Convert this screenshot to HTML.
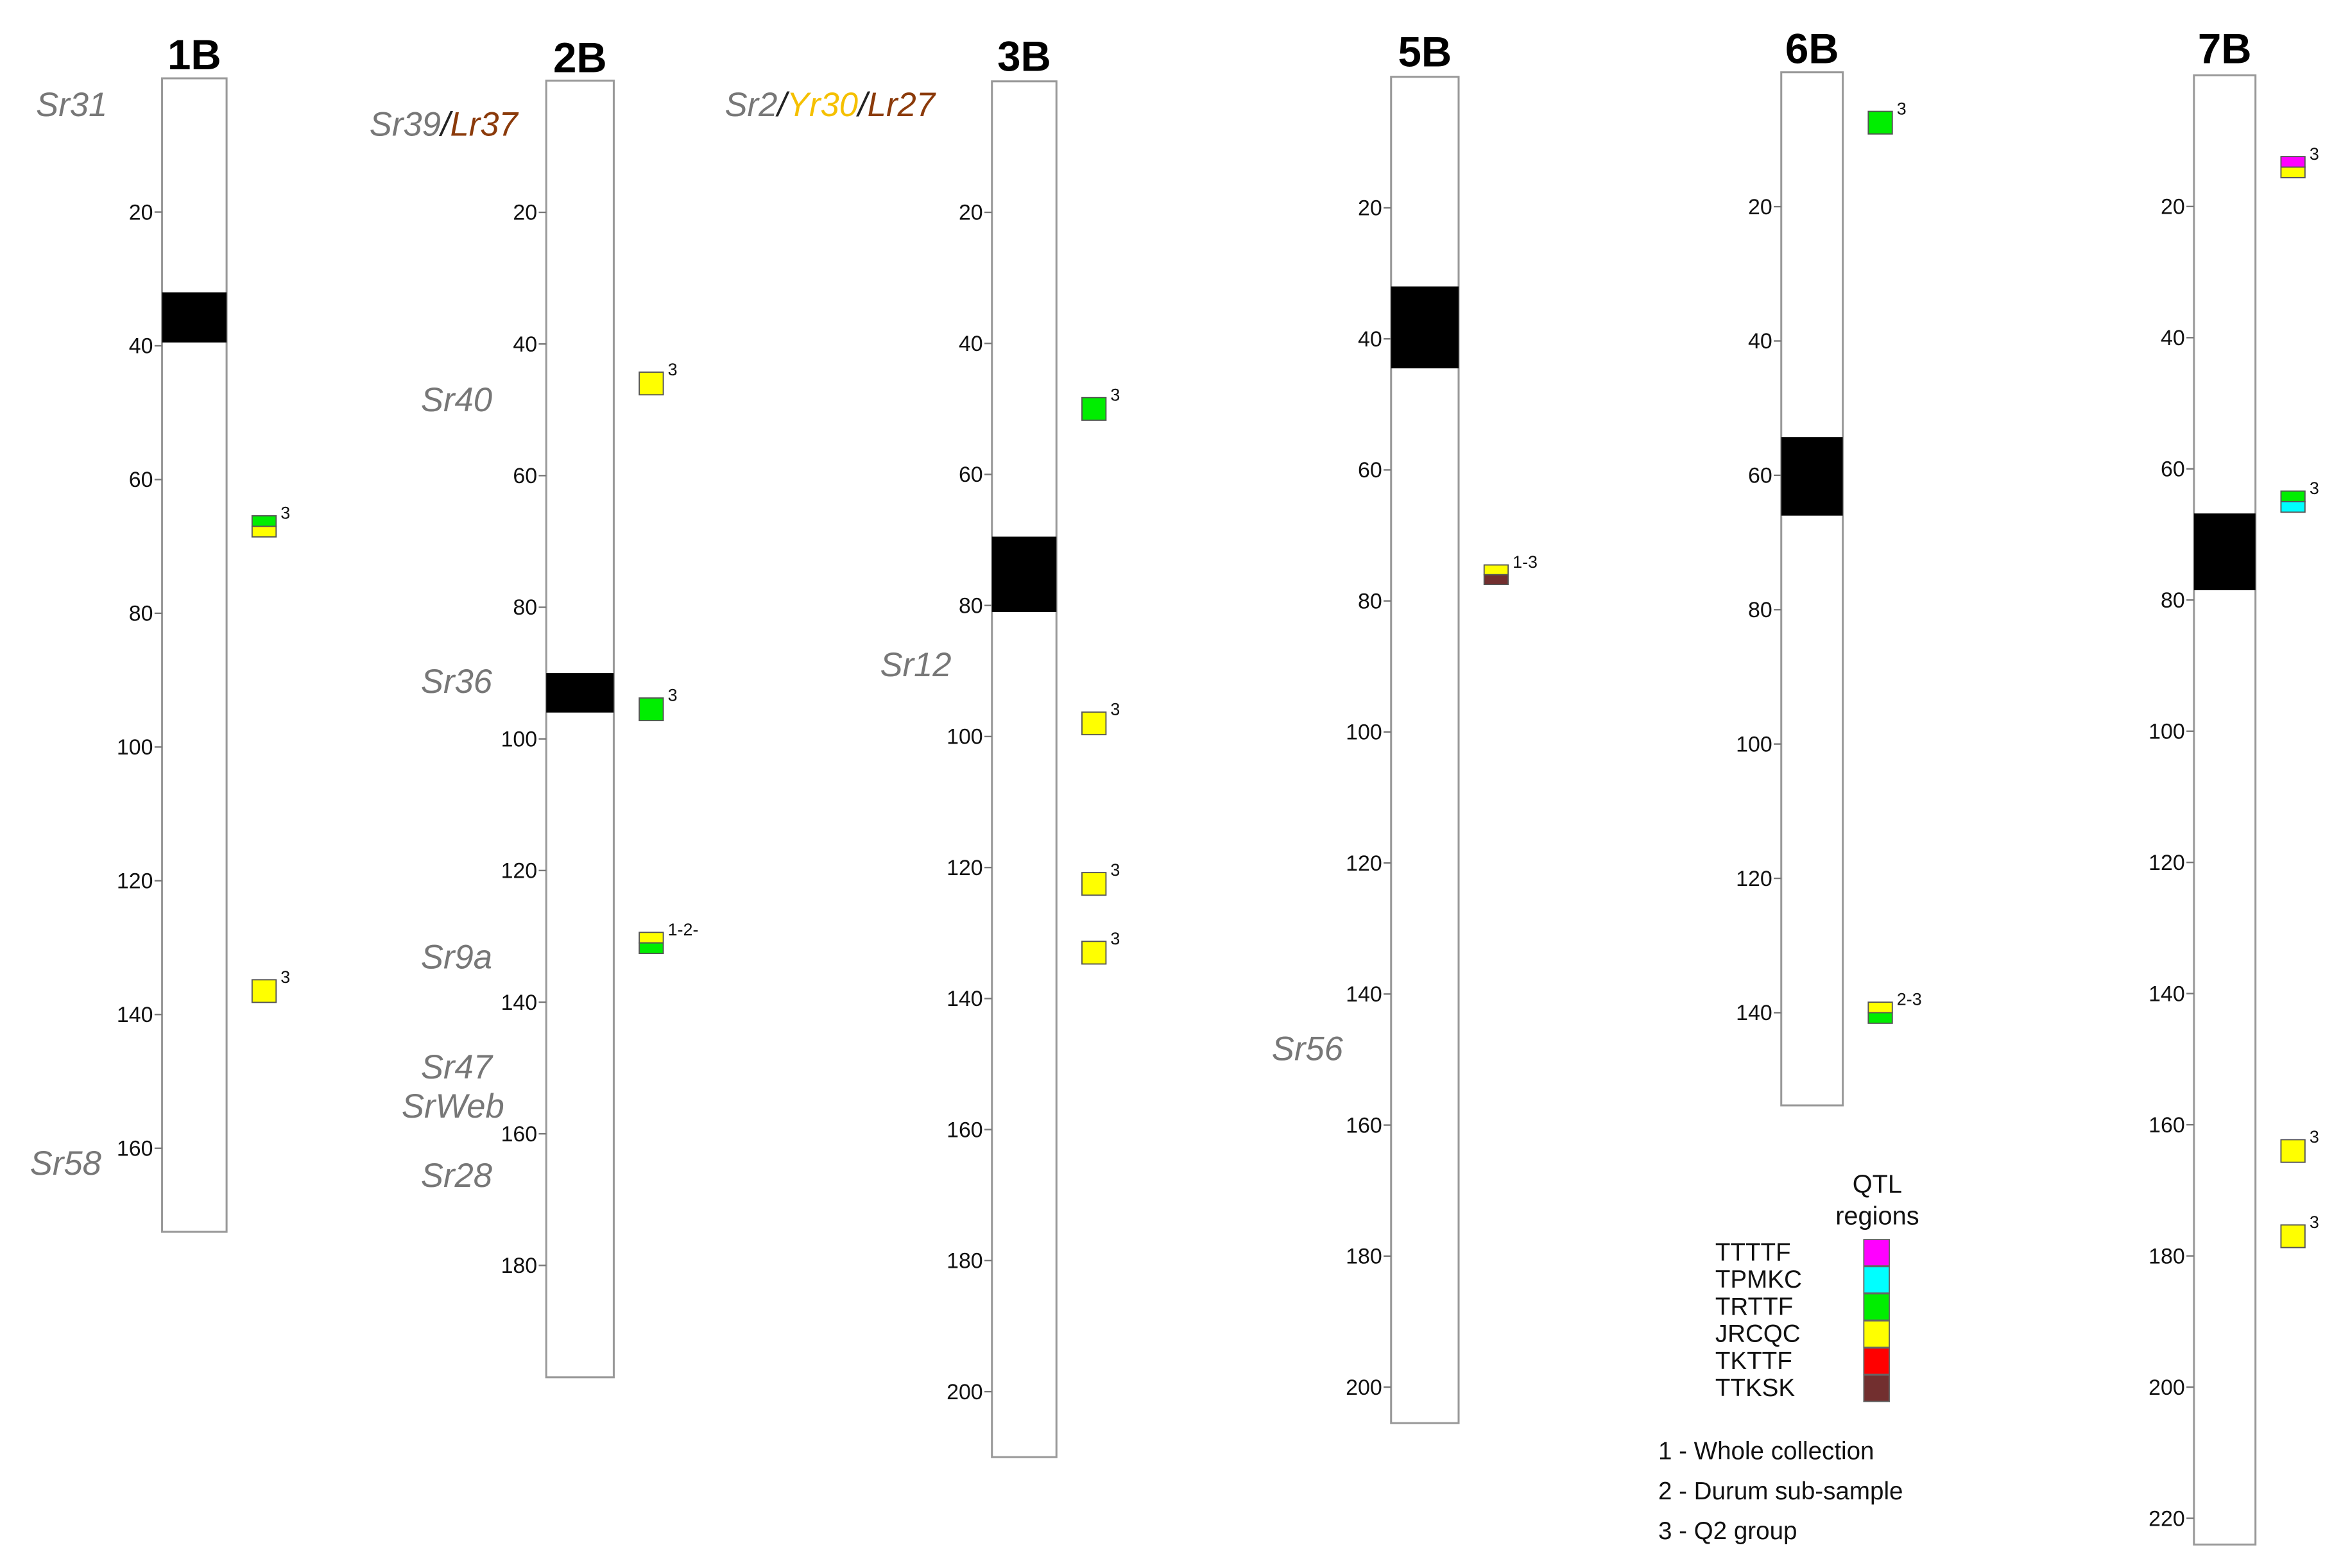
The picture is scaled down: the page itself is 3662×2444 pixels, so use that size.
<!DOCTYPE html>
<html><head><meta charset="utf-8"><style>
html,body{margin:0;padding:0;background:#fff;}
svg{display:block;}
text{font-family:"Liberation Sans",Arial,sans-serif;}
</style></head><body>
<svg id="chart" width="3662" height="2444" viewBox="0 0 1566 1041.1" preserveAspectRatio="none" xmlns="http://www.w3.org/2000/svg">
<rect width="1566" height="1041.1" fill="#fff"/>
<g id="chroms"></g>
<g id="genes"></g>
<g id="legend"></g>
</svg>
<script>
// chromosome data (cM)
const chromNames = ["1B","2B","3B","5B","6B","7B"];
const chromLengths = [172.5,197,210,205.5,153.8,224];
const centroStart = [32,90,69.5,32,54.3,66.8];
const centroEnd = [39.5,96,81,44.5,66,78.5];
const tickValues = [[20,40,60,80,100,120,140,160],[20,40,60,80,100,120,140,160,180],[20,40,60,80,100,120,140,160,180,200],[20,40,60,80,100,120,140,160,180,200],[20,40,60,80,100,120,140],[20,40,60,80,100,120,140,160,180,200,220]];
// QTL markers: chromosome index, position cM, colors (top->bottom), label
const qtlChrom = [0,0,1,1,1,2,2,2,2,3,4,4,5,5,5,5];
const qtlPos = [67,136.5,46,95.5,131,50,98,122.5,133,76,7.5,140,14,65,164,177];
const qtlColors = [["#00ee00","#ffff00"],["#ffff00"],["#ffff00"],["#00ee00"],["#ffff00","#00ee00"],["#00ee00"],["#ffff00"],["#ffff00"],["#ffff00"],["#ffff00","#722f2f"],["#00ee00"],["#ffff00","#00ee00"],["#ff00ff","#ffff00"],["#00ee00","#00ffff"],["#ffff00"],["#ffff00"]];
const qtlLabels = ["3","3","3","3","1-2-","3","3","3","3","1-3","3","2-3","3","3","3","3"];
// legend
const legendNames = ["TTTTF","TPMKC","TRTTF","JRCQC","TKTTF","TTKSK"];
const legendColors = ["#ff00ff","#00ffff","#00ee00","#ffff00","#ff0000","#722f2f"];
const notes = ["1 - Whole collection","2 - Durum sub-sample","3 - Q2 group"];

// layout (not data)
const layout = [
 {x:108,w:43,y0:52,k:4.44,ty:46},
 {x:364,w:45,y0:53.6,k:4.37,ty:48},
 {x:661,w:43,y0:54,k:4.35,ty:47},
 {x:927,w:45,y0:51,k:4.35,ty:44},
 {x:1187,w:41,y0:48,k:4.46,ty:42},
 {x:1462,w:41,y0:50,k:4.355,ty:42}
];
const NS="http://www.w3.org/2000/svg";
function mk(tag,attrs,parent){const e=document.createElementNS(NS,tag);for(const k in attrs)e.setAttribute(k,attrs[k]);parent.appendChild(e);return e;}
function yScale(i,v){return layout[i].y0+v*layout[i].k;}
const G=document.getElementById('chroms');
chromNames.forEach((n,i)=>{
 const L=layout[i];
 const g=mk('g',{},G);
 
 
 const t=mk('text',{x:L.x+L.w/2,y:L.ty,'text-anchor':'middle','font-size':28,'font-weight':'bold',fill:'#000'},g);
 t.textContent=n;
 
 
 const r=mk('rect',{x:L.x,y:yScale(i,0),width:L.w,height:yScale(i,chromLengths[i])-yScale(i,0),fill:'#fff',stroke:'#999','stroke-width':1.3},g);
 
 
 const c=mk('rect',{x:L.x,y:yScale(i,centroStart[i]),width:L.w,height:yScale(i,centroEnd[i])-yScale(i,centroStart[i]),fill:'#000'},g);
 
 
 tickValues[i].forEach(v=>{
  const y=yScale(i,v);
  const l=mk('line',{x1:L.x-5,x2:L.x,y1:y,y2:y,stroke:'#777','stroke-width':1},g);
  
  
  const tl=mk('text',{x:L.x-6,y:y+5,'text-anchor':'end','font-size':14.5,fill:'#111'},g);
  tl.textContent=v;
  
  
 });
});
qtlPos.forEach((p,j)=>{
 const i=qtlChrom[j],L=layout[i];
 const x=L.x+L.w+17,yc=yScale(i,p),cols=qtlColors[j];
 const h=cols.length===1?15:(i===3?13:14);
 const g=mk('g',{},G);
 
 
 const sh=h/cols.length;
 cols.forEach((c,k)=>{
  const r=mk('rect',{x:x,y:yc-h/2+k*sh,width:16,height:sh,fill:c,stroke:'#555','stroke-width':0.8},g);
  
  
 });
 const t=mk('text',{x:x+19,y:yc-h/2+2,'font-size':11.5,fill:'#111'},g);
 t.textContent=qtlLabels[j];
 
 
});
// gene labels
const GL=document.getElementById('genes');
const genes=[
 {parts:[["Sr31","#777"]],x:24,y:77,a:'start'},
 {parts:[["Sr58","#777"]],x:20,y:780,a:'start'},
 {parts:[["Sr39","#777"],["/","#222"],["Lr37","#8b3a0a"]],x:345,y:90,a:'end'},
 {parts:[["Sr40","#777"]],x:328,y:273,a:'end'},
 {parts:[["Sr36","#777"]],x:328,y:460,a:'end'},
 {parts:[["Sr9a","#777"]],x:328,y:643,a:'end'},
 {parts:[["Sr47","#777"]],x:328,y:716,a:'end'},
 {parts:[["SrWeb","#777"]],x:336,y:742,a:'end'},
 {parts:[["Sr28","#777"]],x:328,y:788,a:'end'},
 {parts:[["Sr2","#777"],["/","#222"],["Yr30","#f5c000"],["/","#222"],["Lr27","#8b3a0a"]],x:483,y:77,a:'start'},
 {parts:[["Sr12","#777"]],x:634,y:449,a:'end'},
 {parts:[["Sr56","#777"]],x:895,y:704,a:'end'}
];
genes.forEach(gn=>{
 const t=mk('text',{x:gn.x,y:gn.y,'text-anchor':gn.a,'font-size':22.5,'font-style':'italic'},GL);
 
 
 gn.parts.forEach(p=>{const s=mk('tspan',{fill:p[1]},t);s.textContent=p[0];});
});
// legend
const LG=document.getElementById('legend');
const q=mk('text',{x:1251,y:792,'text-anchor':'middle','font-size':17,fill:'#111'},LG);q.textContent='QTL';


const q2=mk('text',{x:1251,y:813,'text-anchor':'middle','font-size':17,fill:'#111'},LG);q2.textContent='regions';


legendNames.forEach((n,k)=>{
 const y=823+k*18;
 const t=mk('text',{x:1143,y:y+14,'font-size':16.5,fill:'#111'},LG);t.textContent=n;
 
 
 const r=mk('rect',{x:1242,y:y,width:17,height:17.5,fill:legendColors[k],stroke:'#666','stroke-width':0.8},LG);
 
 
});
notes.forEach((n,k)=>{
 const t=mk('text',{x:1105,y:969+k*26.5,'font-size':16.5,fill:'#111'},LG);t.textContent=n;
 
 
});
</script>
</body></html>
